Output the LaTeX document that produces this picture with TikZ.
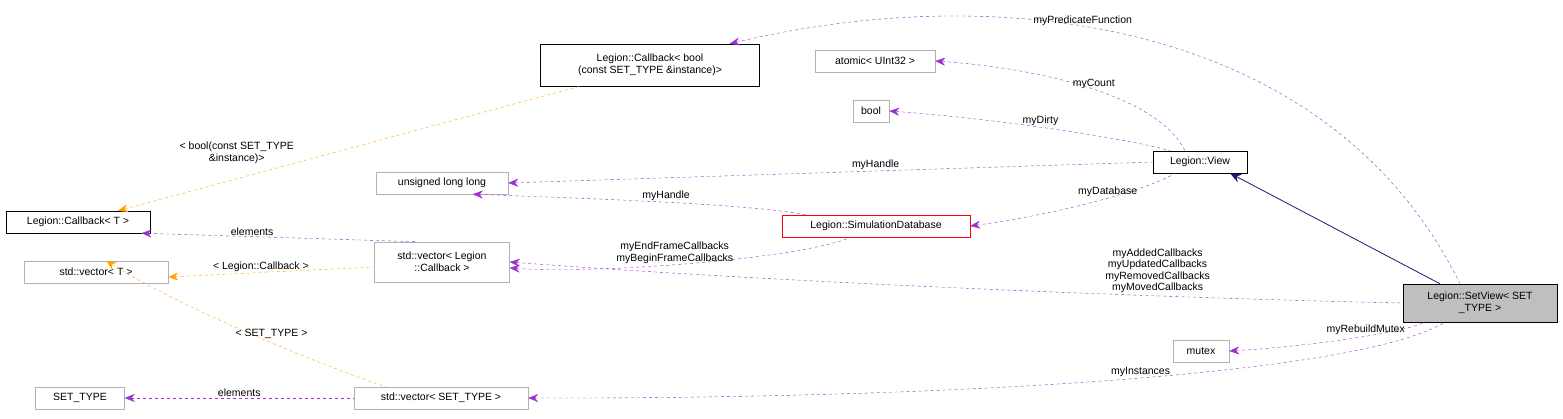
\documentclass[tikz,border=0pt]{standalone}
\usepackage{fontspec}
\setmainfont{Liberation Sans}
\usetikzlibrary{arrows.meta,positioning}
\definecolor{edgeviolet}{HTML}{9A32CD}
\definecolor{edgeorange}{HTML}{FFA500}
\definecolor{edgenavy}{HTML}{191970}
\tikzset{
  cls/.style={draw=black!30, fill=white, inner sep=2pt, font=\fontsize{10.5}{12}\selectfont, align=center, minimum height=22pt},
  lbl/.style={font=\fontsize{10.5}{11.5}\selectfont, align=center, inner sep=1pt},
  use/.style={draw=edgeviolet, dashed, {Stealth[length=10pt,width=8pt]}-},
  tmpl/.style={draw=edgeorange, dashed, {Stealth[length=10pt,width=8pt]}-},
  inh/.style={draw=edgenavy, thick, {Stealth[length=11pt,width=9pt]}-},
}
\begin{document}
\begin{tikzpicture}[x=1pt,y=1pt]
\useasboundingbox (0,0) rectangle (1563,419);
\node (cbbool) [cls, draw=black, minimum width=219pt, minimum height=42pt] at (650,354) {Legion::Callback< bool\\(const SET\_TYPE \&instance)>};
\node (atomic) [cls, minimum width=120pt] at (875,358) {atomic< UInt32 >};
\node (bool) [cls, minimum width=36pt] at (871,308) {bool};
\node (ull) [cls, minimum width=132pt] at (442,236) {unsigned long long};
\node (view) [cls, draw=black, minimum width=94pt] at (1200,257) {Legion::View};
\node (cbT) [cls, draw=black, minimum width=144pt] at (78,197) {Legion::Callback< T >};
\node (simdb) [cls, draw=red, minimum width=188pt] at (876,193) {Legion::SimulationDatabase};
\node (veccb) [cls, minimum width=135pt, minimum height=40pt] at (442,157) {std::vector< Legion\\::Callback >};
\node (vecT) [cls, minimum width=144pt] at (96,147) {std::vector< T >};
\node (setview) [cls, draw=black, fill=black!25, minimum width=154pt, minimum height=38pt] at (1480,116) {Legion::SetView< SET\\\_TYPE >};
\node (mutex) [cls, minimum width=56pt] at (1201,68) {mutex};
\node (settype) [cls, minimum width=89pt] at (80,21) {SET\_TYPE};
\node (vecst) [cls, minimum width=174pt] at (441,21) {std::vector< SET\_TYPE >};

\draw[use] ([xshift=-30pt]cbbool.north east) .. controls (1000,440) and (1330,400) .. ([xshift=-20pt]setview.north)
  node[lbl, pos=0.42, above] {myPredicateFunction};
\draw[use] (atomic.east) .. controls (1050,350) and (1160,320) .. ([xshift=-15pt]view.north) node[lbl, pos=0.5, above] {myCount};
\draw[use] (bool.east) .. controls (1000,300) and (1130,280) .. ([xshift=-30pt]view.north) node[lbl, pos=0.45, above] {myDirty};
\draw[use] (ull.east) -- (view.west) node[lbl, pos=0.57, above] {myHandle};
\draw[use] (simdb.east) .. controls (1060,205) and (1150,230) .. ([xshift=-25pt]view.south) node[lbl, pos=0.55, above] {myDatabase};
\draw[use] (ull.-20) .. controls (600,220) and (750,215) .. ([xshift=-70pt]simdb.north) node[lbl, pos=0.5, above] {myHandle};
\draw[use] (veccb.-5) .. controls (600,145) and (800,160) .. ([xshift=-25pt]simdb.south)
  node[lbl, pos=0.45, above] {myEndFrameCallbacks\\myBeginFrameCallbacks};
\draw[use] (veccb.east) .. controls (800,135) and (1200,120) .. (setview.west)
  node[lbl, pos=0.68, above=2pt] {myAddedCallbacks\\myUpdatedCallbacks\\myRemovedCallbacks\\myMovedCallbacks};
\draw[use] (cbT.-10) -- (veccb.140) node[lbl, pos=0.4, above] {elements};
\draw[use] (mutex.east) .. controls (1300,72) and (1400,85) .. ([xshift=-55pt]setview.south) node[lbl, pos=0.6, above] {myRebuildMutex};
\draw[use] (vecst.east) .. controls (900,20) and (1350,40) .. ([xshift=-35pt]setview.south) node[lbl, pos=0.55, above] {myInstances};
\draw[use] (settype.east) -- (vecst.west) node[lbl, midway, above] {elements};
\draw[tmpl] ([xshift=40pt]cbT.north) -- ([xshift=-70pt]cbbool.south) node[lbl, pos=0.38, above left=-2pt] {< bool(const SET\_TYPE\\\&instance)>};
\draw[tmpl] ([yshift=-5pt]vecT.east) -- ([yshift=-5pt]veccb.west) node[lbl, pos=0.45, above] {< Legion::Callback >};
\draw[tmpl] ([xshift=10pt]vecT.north) .. controls (200,100) and (360,40) .. ([xshift=-55pt]vecst.north) node[lbl, pos=0.5, above=3pt] {< SET\_TYPE >};
\draw[inh] ([xshift=30pt]view.south) -- ([xshift=-40pt]setview.north);
\end{tikzpicture}
\end{document}
